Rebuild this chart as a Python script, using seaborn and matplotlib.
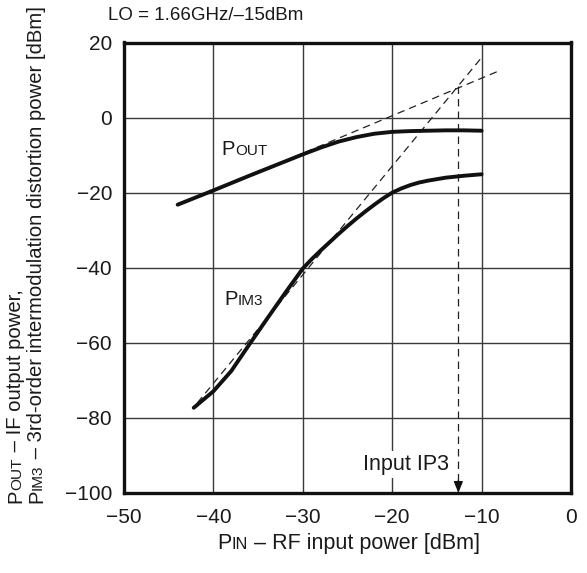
import numpy as np
import pandas as pd
import matplotlib
matplotlib.use("Agg")
import matplotlib.pyplot as plt
from matplotlib.transforms import IdentityTransform, offset_copy
import seaborn as sns

# ---- data ----
pout_x = [-44, -40, -36, -32, -30, -28, -26, -24, -22, -20, -18, -16, -14, -12, -10]
pout_y = [-23.2, -19.4, -15.5, -11.7, -9.8, -8.0, -6.4, -5.2, -4.3, -3.8, -3.6, -3.5, -3.4, -3.4, -3.5]

pim3_x = [-42.2, -40, -38, -36, -34, -32, -30, -29, -28, -27, -26, -25, -24, -23, -22,
          -21, -20, -19, -18, -17, -16, -14, -12, -10]
pim3_y = [-77.3, -72.9, -67.5, -60.5, -53.6, -46.8, -40.2, -37.7, -35.4, -33.2, -31.0,
          -28.9, -26.9, -25.0, -23.2, -21.5, -20.0, -18.9, -18.0, -17.3, -16.8, -16.0,
          -15.5, -15.1]

pout_ext_x = [-31.0, -8.3]
pout_ext_y = [-10.5, 12.2]
pim3_ext_x = [-41.8, -10.0]
pim3_ext_y = [-76.0, 16.0]

ip3_x = -12.6
ip3_y = 8.4

x_ticks = [-50, -40, -30, -20, -10, 0]
y_ticks = [-100, -80, -60, -40, -20, 0, 20]

title = "LO = 1.66GHz/\u201315dBm"

# ---- style ----
sns.set_style("white")
plt.rcParams['font.family'] = ['Liberation Sans', 'DejaVu Sans']
TXT = "#1a1a1a"
TICK_FS = 15
LBL_FS = 14.5
LBL_SMALL = 11
X_FS = 15.5
X_SMALL = 11.8
Y_FS = 14.6
Y_SMALL = 11.1

fig = plt.figure(figsize=(5.87, 5.73), dpi=100)
ax = fig.add_axes([124/587, 80/573, 447/587, 450.5/573])

df_pout = pd.DataFrame({"x": pout_x, "y": pout_y})
df_pim3 = pd.DataFrame({"x": pim3_x, "y": pim3_y})

dash = (0, (6, 4))
# extrapolation dashed lines
sns.lineplot(x=pout_ext_x, y=pout_ext_y, ax=ax, color="#222222", lw=0.9,
             linestyle=dash, estimator=None, sort=False, zorder=3)
sns.lineplot(x=pim3_ext_x, y=pim3_ext_y, ax=ax, color="#222222", lw=0.9,
             linestyle=dash, estimator=None, sort=False, zorder=3)
sns.lineplot(x=[ip3_x, ip3_x], y=[ip3_y, -97], ax=ax, color="#222222", lw=0.9,
             linestyle=dash, estimator=None, sort=False, zorder=3)
ax.annotate("", xy=(ip3_x, -100), xytext=(ip3_x, -96.5),
            arrowprops=dict(arrowstyle="-|>,head_length=0.7,head_width=0.28",
                            color="#111111", lw=0.9, shrinkA=0, shrinkB=0), zorder=4)

# main curves
sns.lineplot(data=df_pout, x="x", y="y", ax=ax, color="#111111", lw=2.8,
             estimator=None, sort=False, zorder=4)
sns.lineplot(data=df_pim3, x="x", y="y", ax=ax, color="#111111", lw=2.8,
             estimator=None, sort=False, zorder=4)

ax.set_xlim(-50, 0)
ax.set_ylim(-100, 20)
ax.set_xticks(x_ticks)
ax.set_yticks(y_ticks)
ax.set_xticklabels([("\u2212%d" % -v) if v < 0 else str(v) for v in x_ticks])
ax.set_yticklabels([("\u2212%d" % -v) if v < 0 else str(v) for v in y_ticks])
ax.tick_params(axis="both", length=0, labelsize=TICK_FS, labelcolor=TXT)
ax.tick_params(axis="x", pad=10.5)
ax.tick_params(axis="y", pad=8.6)
ax.grid(True, color="#3a3a3a", lw=1.0)
ax.set_axisbelow(True)
for s in ax.spines.values():
    s.set_visible(True)
    s.set_color("#111111")
    s.set_linewidth(2.4)
ax.set_xlabel("")
ax.set_ylabel("")

renderer = fig.canvas.get_renderer()


def measure(s, fs):
    t = fig.text(0, 0, s, fontsize=fs)
    w = t.get_window_extent(renderer).width
    t.remove()
    return w


def rich(parts, x, y, transform, rotation=0, align="left", zorder=5):
    widths = [measure(s, fs) for s, fs in parts]
    total = sum(widths)
    start = 0.0
    if align == "center":
        start = -total / 2
    elif align == "right":
        start = -total
    pos = start
    arts = []
    for (s, fs), w in zip(parts, widths):
        if rotation == 0:
            tr = offset_copy(transform, fig=fig, x=pos, y=0, units="dots")
        else:
            tr = offset_copy(transform, fig=fig, x=0, y=pos, units="dots")
        t = fig.text(x, y, s, fontsize=fs, color=TXT, transform=tr,
                     rotation=rotation, rotation_mode="anchor",
                     ha="left", va="baseline", zorder=zorder)
        arts.append(t)
        pos += w
    return arts


# in-plot labels
rich([("P", LBL_FS), ("OUT", LBL_SMALL)], -39.1, -10.0, ax.transData)
rich([("P", LBL_FS), ("IM3", LBL_SMALL)], -38.8, -50.0, ax.transData)
ax.text(-13.7, -93.8, "Input IP3", fontsize=15.5, color=TXT,
        ha="right", va="baseline", zorder=5,
        bbox=dict(facecolor="white", edgecolor="none", pad=2))

# title
fig.text(108, 573 - 20, title, fontsize=13.5, color=TXT, ha="left",
         va="baseline", transform=IdentityTransform())

# x label
rich([("P", X_FS), ("IN", X_SMALL), (" \u2013 RF input power [dBm]", X_FS)],
     349, 24, IdentityTransform(), align="center")

# y label (two lines, rotated)
rich([("P", Y_FS), ("OUT", Y_SMALL), (" \u2013 IF output power,", Y_FS)],
     21, 70, IdentityTransform(), rotation=90)
rich([("P", Y_FS), ("IM3", Y_SMALL),
      (" \u2013 3rd-order intermodulation distortion power [dBm]", Y_FS)],
     42, 70, IdentityTransform(), rotation=90)

fig.savefig("out.png", dpi=100)
